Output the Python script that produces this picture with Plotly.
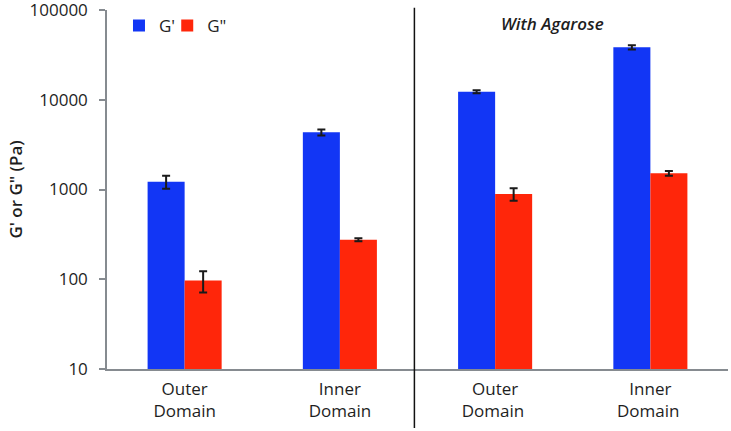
import plotly.graph_objects as go

categories = ["Outer<br>Domain", "Inner<br>Domain", "Outer<br>Domain ", "Inner<br>Domain "]
g_prime = [1220, 4340, 12300, 38400]
g_prime_err = [200, 340, 500, 2000]
g_double = [97, 276, 891, 1514]
g_double_err = [26, 10, 140, 90]
y_ticks = [10, 100, 1000, 10000, 100000]
y_tick_labels = ["10", "100", "1000", "10000", "100000"]

FONT = "Open Sans"
AXIS_COLOR = "#868b90"
TEXT = "#1e1e1e"

fig = go.Figure()
fig.add_trace(go.Bar(
    x=categories, y=g_prime, name="G'", legend="legend",
    marker=dict(color="#1236f5", line=dict(width=0)),
    error_y=dict(type="data", array=g_prime_err, color="#1a1a1a", thickness=2, width=4),
))
fig.add_trace(go.Bar(
    x=categories, y=g_double, name='G"', legend="legend2",
    marker=dict(color="#ff260a", line=dict(width=0)),
    error_y=dict(type="data", array=g_double_err, color="#1a1a1a", thickness=2, width=4),
))

fig.add_shape(type="line", xref="x", yref="paper", x0=1.48, x1=1.48, y0=-0.164, y1=1.006,
              line=dict(color="#111111", width=1.5))

fig.add_annotation(text="With Agarose", xref="x", yref="paper", x=2.37, y=0.963,
                   showarrow=False,
                   font=dict(family=FONT, size=17, color=TEXT, style="italic", weight=600),
                   xanchor="center", yanchor="middle")

fig.add_annotation(text="G' or G\" (Pa)", xref="paper", yref="paper", x=-0.148, y=0.5,
                   textangle=-90, showarrow=False,
                   font=dict(family=FONT, size=17, color=TEXT, weight=600),
                   xanchor="center", yanchor="middle")

legend_common = dict(orientation="h", y=1.006, xanchor="left", yanchor="top",
                     font=dict(family=FONT, size=17, color=TEXT),
                     itemwidth=30, bgcolor="rgba(0,0,0,0)")

fig.update_layout(
    width=731, height=431,
    margin=dict(l=107, r=3, t=10, b=62, autoexpand=False),
    paper_bgcolor="white", plot_bgcolor="white",
    barmode="group", bargap=0.523, bargroupgap=0,
    font=dict(family=FONT, size=17, color=TEXT),
    showlegend=True,
    legend=dict(x=0.0193, **legend_common),
    legend2=dict(x=0.097, **legend_common),
    xaxis=dict(range=[-0.5, 3.5], showline=True, linecolor=AXIS_COLOR, linewidth=1.5,
               ticks="", showgrid=False, zeroline=False, automargin=False,
               ticklabelstandoff=4, ticklabeloverflow="allow",
               tickfont=dict(family=FONT, size=17, color=TEXT)),
    yaxis=dict(type="log", range=[1, 5.0005], tickvals=y_ticks, ticktext=y_tick_labels,
               showline=True, linecolor=AXIS_COLOR, linewidth=1.5,
               ticks="outside", ticklen=6, tickcolor=AXIS_COLOR, tickwidth=1.5,
               showgrid=False, zeroline=False, automargin=False,
               ticklabeloverflow="allow", ticklabelstandoff=8,
               tickfont=dict(family=FONT, size=17, color=TEXT)),
)

fig.write_html("out.html", config={"displayModeBar": False},
               post_script="document.body.style.margin='0';document.body.style.padding='0';")
